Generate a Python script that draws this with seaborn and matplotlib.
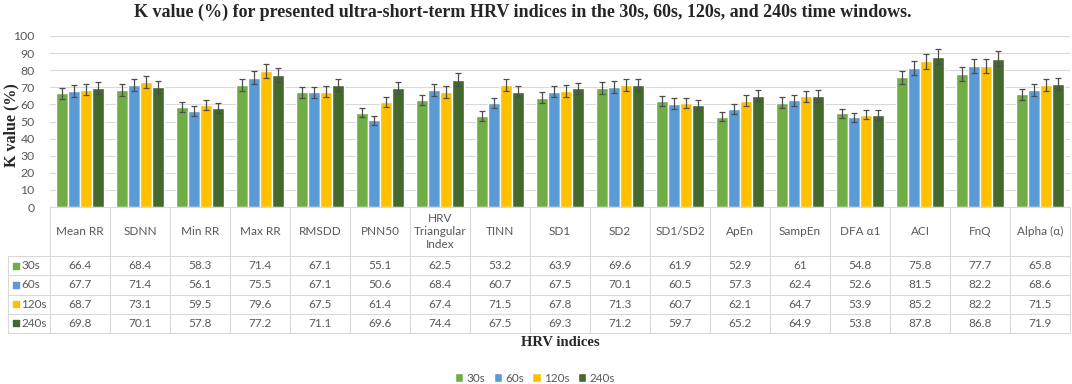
import numpy as np
import pandas as pd
import matplotlib
matplotlib.use("Agg")
import matplotlib.pyplot as plt
import seaborn as sns

# ---- data ----
indices = ["Mean RR", "SDNN", "Min RR", "Max RR", "RMSDD", "PNN50",
           "HRV\nTriangular\nIndex", "TINN", "SD1", "SD2", "SD1/SD2", "ApEn",
           "SampEn", "DFA α1", "ACI", "FnQ", "Alpha (α)"]
windows = ["30s", "60s", "120s", "240s"]

k_30s = [66.4, 68.4, 58.3, 71.4, 67.1, 55.1, 62.5, 53.2, 63.9, 69.6, 61.9, 52.9, 61, 54.8, 75.8, 77.7, 65.8]
k_60s = [67.7, 71.4, 56.1, 75.5, 67.1, 50.6, 68.4, 60.7, 67.5, 70.1, 60.5, 57.3, 62.4, 52.6, 81.5, 82.2, 68.6]
k_120s = [68.7, 73.1, 59.5, 79.6, 67.5, 61.4, 67.4, 71.5, 67.8, 71.3, 60.7, 62.1, 64.7, 53.9, 85.2, 82.2, 71.5]
k_240s = [69.8, 70.1, 57.8, 77.2, 71.1, 69.6, 74.4, 67.5, 69.3, 71.2, 59.7, 65.2, 64.9, 53.8, 87.8, 86.8, 71.9]

# error bars are the Excel "5 % of value" kind
err_pct = 5

series = {"30s": k_30s, "60s": k_60s, "120s": k_120s, "240s": k_240s}
colors = ["#70AD47", "#5B9BD5", "#FFC000", "#44692C"]

df = pd.DataFrame([(idx, w, v) for w in windows for idx, v in zip(indices, series[w])],
                  columns=["index", "window", "k"])

sns.set_style("white")
plt.rcParams['font.family'] = ['Lato', 'DejaVu Sans']
txt_col = "#595959"
serif = ['Liberation Serif', 'DejaVu Serif']

fig = plt.figure(figsize=(10.72, 3.84), dpi=100)
W, H = 1072, 384
left, right = 50 / W, 1070 / W
ax = fig.add_axes([left, 1 - 207 / H, right - left, (207 - 36) / H])

sns.barplot(data=df, x="index", y="k", hue="window", hue_order=windows,
            palette=colors, width=0.8, gap=0.08, errorbar=None, ax=ax,
            saturation=1, legend=True)

# error bars on each bar
for cont, w in zip(ax.containers, windows):
    xs = [p.get_x() + p.get_width() / 2 for p in cont]
    ys = np.array(series[w])
    ax.errorbar(xs, ys, yerr=ys * err_pct / 100, fmt="none", ecolor="#4d4d4d",
                elinewidth=0.9, capsize=2.5, capthick=0.9, zorder=5)

ax.set_ylim(0, 100)
ax.set_xlim(-0.5, len(indices) - 0.5)
ax.set_yticks(range(0, 101, 10))
ax.tick_params(axis="y", length=0, pad=11, labelsize=8.8, labelcolor=txt_col)
ax.set_xticks([])
ax.set_xlabel("")
ax.set_ylabel("")
ax.yaxis.grid(True, color="#d9d9d9", lw=0.8)
ax.set_axisbelow(True)
for s in ax.spines.values():
    s.set_visible(False)

handles, labels = ax.get_legend_handles_labels()
ax.get_legend().remove()
fig.legend(handles, labels, loc="center", bbox_to_anchor=(535 / W, 1 - 378 / H), ncol=4,
           frameon=False, fontsize=8.5, handlelength=0.7, handleheight=0.7,
           handletextpad=0.3, columnspacing=0.7, labelcolor=txt_col)

# ---- data table under the bars ----
tab = fig.add_axes([left, 1 - 333 / H, right - left, (333 - 207) / H])
tab.set_xlim(-0.5, len(indices) - 0.5)
tab.set_ylim(126, 0)
tab.axis("off")
line_kw = dict(color="#d9d9d9", lw=0.8, clip_on=False)
head_h = 49
row_h = (126 - head_h) / 4
x_head = -0.5 - 42 / 60

tab.plot([-0.5, len(indices) - 0.5], [0, 0], **line_kw)
for r in range(5):
    y = head_h + r * row_h
    tab.plot([x_head, len(indices) - 0.5], [y, y], **line_kw)
for i in range(len(indices) + 1):
    tab.plot([i - 0.5, i - 0.5], [0, 126], **line_kw)
tab.plot([x_head, x_head], [head_h, 126], **line_kw)

for i, name in enumerate(indices):
    tab.text(i, head_h / 2, name, ha="center", va="center", fontsize=8.5,
             color=txt_col, linespacing=1.25)
for r, (w, c) in enumerate(zip(windows, colors)):
    yc = head_h + (r + 0.5) * row_h
    tab.scatter([x_head + 0.13], [yc], marker="s", s=22, color=c, clip_on=False)
    tab.text(x_head + 0.22, yc, w, ha="left", va="center", fontsize=8.5, color=txt_col)
    for i, v in enumerate(series[w]):
        tab.text(i, yc, f"{v:g}", ha="center", va="center", fontsize=8.5, color=txt_col)

fig.text(523 / W, 1 - 12 / H, "K value (%) for presented ultra-short-term HRV indices in the 30s, 60s, 120s, and 240s time windows.",
         ha="center", va="center", fontsize=13, fontweight="bold", family=serif)
fig.text(11 / W, 1 - 125 / H, "K value (%)", rotation=90, ha="center", va="center",
         fontsize=11.5, fontweight="bold", family=serif)
fig.text(560 / W, 1 - 343 / H, "HRV indices", ha="center", va="center",
         fontsize=10.5, fontweight="bold", family=serif)

fig.savefig("out.png", dpi=100)
